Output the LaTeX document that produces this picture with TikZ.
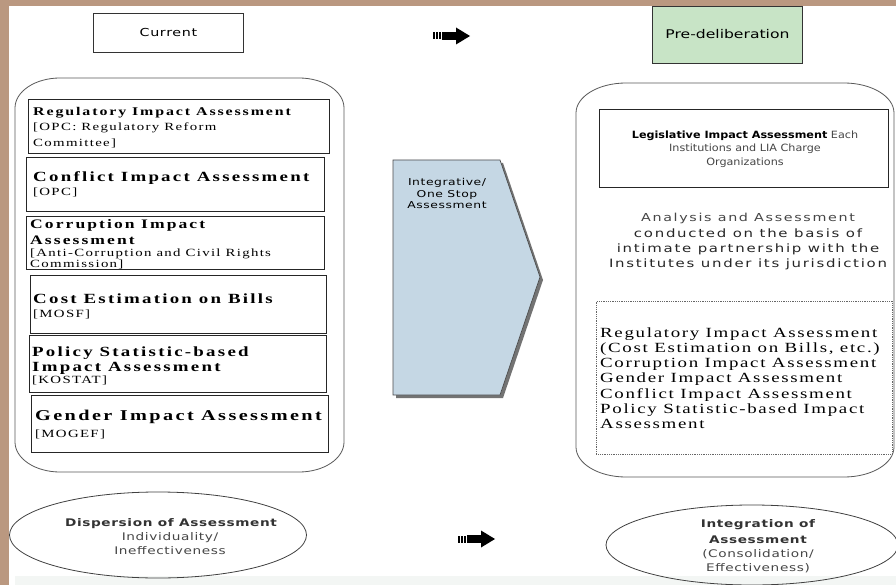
\documentclass[tikz,border=0pt]{standalone}
\usepackage{fontspec}
% Batang-like wide serif and Gulim-like wide sans
\newfontfamily\bt[FakeStretch=1.35,LetterSpace=12]{Liberation Serif}
\newfontfamily\btt[FakeStretch=1.35,LetterSpace=16]{Liberation Serif}
\newfontfamily\ks[FakeStretch=1.3,LetterSpace=6]{DejaVu Sans}
\newfontfamily\ksn[FakeStretch=1.3]{DejaVu Sans}
\newfontfamily\ksw[FakeStretch=1.3,LetterSpace=15]{DejaVu Sans}
\newfontfamily\ksl[FakeStretch=1.12]{DejaVu Sans}
\newcommand\fsz[1]{\fontsize{#1}{#1}\selectfont}
\definecolor{frame}{RGB}{186,152,128}
\definecolor{greenbox}{RGB}{200,228,198}
\definecolor{chevfill}{RGB}{197,215,228}
\definecolor{strip}{RGB}{243,246,244}
\definecolor{txtgray}{RGB}{70,70,70}
\usetikzlibrary{shapes.geometric}
\begin{document}
\begin{tikzpicture}[x=1pt,y=-1pt,
  lt/.style={inner sep=0pt,anchor=base west},
  ct/.style={inner sep=0pt,anchor=base},
  ibox/.style={draw=black!85,line width=0.9pt,anchor=north west,inner sep=0pt},
  hbox/.style={draw=black!80,line width=0.9pt,anchor=north west,inner sep=0pt},
  outer/.style={draw=black!65,line width=0.8pt},
  oval/.style={draw=black!75,line width=0.8pt,ellipse,inner sep=0pt},
  btitle/.style={lt},
  bsub/.style={lt,font=\bt\fsz{11}},
]
\useasboundingbox (0,0) rectangle (896,585);
% page frame
\fill[frame] (0,0) rectangle (896,585);
\fill[white] (9,6) rectangle (896,585);
\fill[strip] (15,576) rectangle (896,585);

% headings
\node[hbox,minimum width=150pt,minimum height=39pt] (cur) at (93,13) {};
\node[ct,font=\ks\fsz{11}] (curT) at ([yshift=-4pt]cur.center) {Current};
\node[hbox,fill=greenbox,minimum width=150pt,minimum height=57pt] (pre) at (652,6) {};
\node[ct,font=\ksn\fsz{12}] (preT) at ([yshift=-4pt]pre.center) {Pre-deliberation};

% block arrows between the columns
\foreach \bx/\by in {433/36,458/539}{
  \foreach \k in {0,3,6} \fill[black] (\bx+\k,\by-3.5) rectangle (\bx+\k+1.6,\by+3.5);
  \fill[black] (\bx+9,\by-3.8) rectangle (\bx+24,\by+3.8);
  \fill[black] (\bx+23,\by-8.5) -- (\bx+37,\by) -- (\bx+23,\by+8.5) -- cycle;
}

% left container
\draw[outer] (15,108) -- (15,442) arc[start angle=180,end angle=270,x radius=45pt,y radius=30pt]
  -- (299,472) arc[start angle=270,end angle=360,x radius=45pt,y radius=30pt]
  -- (344,108) arc[start angle=0,end angle=90,x radius=45pt,y radius=30pt]
  -- (60,78) arc[start angle=90,end angle=180,x radius=45pt,y radius=30pt] -- cycle;

\node[ibox,minimum width=301pt,minimum height=54pt] (b1) at (28,99) {};
\node[btitle,font=\btt\bfseries\fsz{11.8}] (b1a) at (33,116) {Regulatory Impact Assessment};
\node[bsub] (b1b) at (33,131) {[OPC: Regulatory Reform};
\node[bsub] (b1c) at (33,147) {Committee]};

\node[ibox,minimum width=298pt,minimum height=54pt] (b2) at (26,157) {};
\node[btitle,font=\btt\bfseries\fsz{14}] (b2a) at (33,182) {Conflict Impact Assessment};
\node[bsub] (b2b) at (33,196) {[OPC]};

\node[ibox,minimum width=298pt,minimum height=53pt] (b3) at (26,216) {};
\node[btitle,font=\btt\bfseries\fsz{13}] (b3a) at (30,229) {Corruption Impact};
\node[btitle,font=\btt\bfseries\fsz{13}] (b3b) at (30,244) {Assessment};
\node[bsub] (b3c) at (30,256) {[Anti-Corruption and Civil Rights};
\node[bsub] (b3d) at (30,267) {Commission]};

\node[ibox,minimum width=296pt,minimum height=58pt] (b4) at (30,275) {};
\node[btitle,font=\btt\bfseries\fsz{14}] (b4a) at (33,303) {Cost Estimation on Bills};
\node[bsub] (b4b) at (33,317) {[MOSF]};

\node[ibox,minimum width=297pt,minimum height=57pt] (b5) at (29,335) {};
\node[btitle,font=\btt\bfseries\fsz{14}] (b5a) at (32,356) {Policy Statistic-based};
\node[btitle,font=\btt\bfseries\fsz{14}] (b5b) at (32,371) {Impact Assessment};
\node[bsub] (b5c) at (32,383) {[KOSTAT]};

\node[ibox,minimum width=297pt,minimum height=57pt] (b6) at (31,395) {};
\node[btitle,font=\btt\bfseries\fsz{15}] (b6a) at (35,420) {Gender Impact Assessment};
\node[bsub] (b6b) at (35,437) {[MOGEF]};

% integrative chevron with shadow
\fill[black!55] (396,163) -- (503,163) -- (543,280) -- (503,398) -- (396,398) -- cycle;
\draw[fill=chevfill,draw=black!70,line width=0.7pt] (393,160) -- (500,160) -- (540,277) -- (500,395) -- (393,395) -- cycle;
\node[ct,font=\ks\fsz{9.5}] (integ) at (447,186) {Integrative/};
\node[ct,font=\ks\fsz{9.5}] (integ2) at (447,198) {One Stop};
\node[ct,font=\ks\fsz{9.5}] (integ3) at (447,209) {Assessment};

% right container
\draw[outer] (576,113) -- (576,447) arc[start angle=180,end angle=270,x radius=50pt,y radius=30pt]
  -- (844,477) arc[start angle=270,end angle=360,x radius=50pt,y radius=30pt]
  -- (894,113) arc[start angle=0,end angle=90,x radius=50pt,y radius=30pt]
  -- (626,83) arc[start angle=90,end angle=180,x radius=50pt,y radius=30pt] -- cycle;

\node[ibox,minimum width=289pt,minimum height=78pt] (lia) at (599,109) {};
\node[ct,font=\ksl\fsz{10}] (liaA) at (745,139) {\textbf{Legislative Impact Assessment} {\color{txtgray}Each}};
\node[ct,font=\ksl\fsz{10},text=txtgray] (liaB) at (745,152) {Institutions and LIA Charge};
\node[ct,font=\ksl\fsz{10},text=txtgray] (liaC) at (745,166) {Organizations};

\node[ct,font=\ksw\fsz{11},text=txtgray] (an1) at (748,222) {Analysis and Assessment};
\node[ct,font=\ksw\fsz{11.5},text=black!85] (an2) at (748,237) {conducted on the basis of};
\node[ct,font=\ksw\fsz{11.5},text=black!85] (an3) at (748,252) {intimate partnership with the};
\node[ct,font=\ksw\fsz{11.5},text=black!85] (an4) at (748,267) {Institutes under its jurisdiction};

\node[draw=black!60,densely dotted,line width=0.8pt,anchor=north west,inner sep=0pt,
  minimum width=296pt,minimum height=153pt] (dot) at (596,301) {};
\foreach \t/\yy [count=\i] in {Regulatory Impact Assessment/337,
  (Cost Estimation on Bills{,} etc.)/352,
  Corruption Impact Assessment/367,
  Gender Impact Assessment/382,
  Conflict Impact Assessment/398,
  Policy Statistic-based Impact/413,
  Assessment/428}
  \node[lt,font=\bt\fsz{14}] (d\i) at (600,\yy) {\t};

% bottom ellipses
\node[oval,minimum width=297pt,minimum height=86pt] (disp) at (158,535) {};
\node[ct,font=\ks\bfseries\fsz{10.5},text=black!80] (dispA) at (171,526) {Dispersion of Assessment};
\node[ct,font=\ks\fsz{10.5},text=txtgray] (dispB) at (170,540) {Individuality/};
\node[ct,font=\ks\fsz{10.5},text=txtgray] (dispC) at (170,554) {Ineffectiveness};

\node[oval,minimum width=292pt,minimum height=80pt] (integr) at (752,545) {};
\node[ct,font=\ks\bfseries\fsz{10.5},text=black!80] (intA) at (758,527) {Integration of};
\node[ct,font=\ks\bfseries\fsz{10.5},text=black!80] (intB) at (758,543) {Assessment};
\node[ct,font=\ks\fsz{10.5},text=txtgray] (intC) at (758,557) {(Consolidation/};
\node[ct,font=\ks\fsz{10.5},text=txtgray] (intD) at (758,571) {Effectiveness)};
\end{tikzpicture}
\end{document}
